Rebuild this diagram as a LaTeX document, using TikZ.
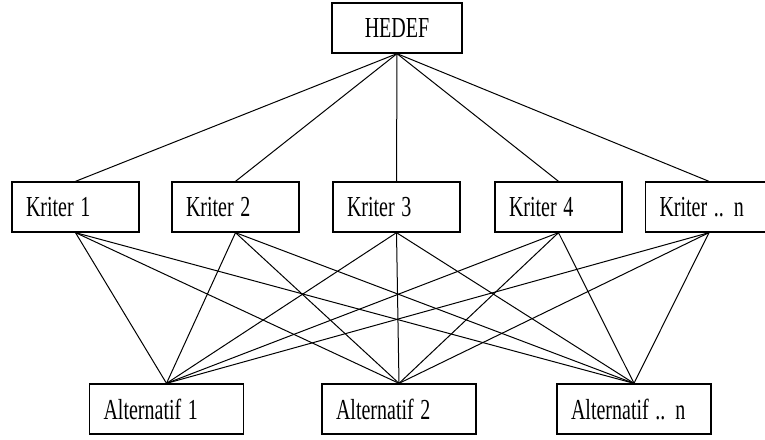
\documentclass[tikz,border=0pt]{standalone}
\usepackage{fontspec}
\usepackage{graphicx}
\setmainfont{Liberation Serif}
\usetikzlibrary{positioning}

\newcommand{\lbl}[1]{\scalebox{0.69}[1]{#1}}

\tikzset{
  box/.style={draw,line width=1.3pt,minimum height=50pt,inner xsep=14pt,
    align=left,font=\fontsize{29}{34}\selectfont},
  kbox/.style={box,text width=99pt},
  abox/.style={box,text width=126pt},
  link/.style={line width=1pt}
}

\begin{document}
\begin{tikzpicture}[x=1pt,y=-1pt]
            \useasboundingbox (0,0) rectangle (765,439);
            \node[box,align=center,minimum width=130pt,inner xsep=5pt] (hedef) at (397,28) {\lbl{HEDEF}};
            % criteria
            \node[kbox] (k1) at (75.5,207) {\lbl{Kriter 1}};
            \node[kbox] (k2) at (235.5,207) {\lbl{Kriter 2}};
            \node[kbox] (k3) at (396.5,207) {\lbl{Kriter 3}};
            \node[kbox] (k4) at (558.5,207) {\lbl{Kriter 4}};
            \node[kbox] (k5) at (709,207) {\lbl{Kriter .. n}};
            % alternatives
            \node[abox] (a1) at (166.5,409) {\lbl{Alternatif 1}};
            \node[abox] (a2) at (399,409) {\lbl{Alternatif 2}};
            \node[abox] (a3) at (634,409) {\lbl{Alternatif .. n}};
            \foreach \k in {1,...,5} {
              \draw[link] (hedef.south) -- (k\k.north);
              \foreach \a in {1,2,3}
                \draw[link] (k\k.south) -- (a\a.north);
            }
          \end{tikzpicture}
\end{document}
